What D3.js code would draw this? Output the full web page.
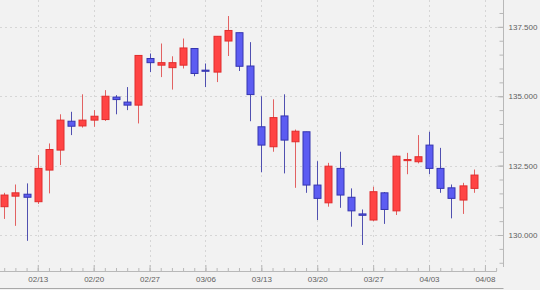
<!DOCTYPE html>
<html>
<head>
<meta charset="utf-8">
<script src="https://cdn.jsdelivr.net/npm/d3@7"></script>
<style>
  html, body { margin: 0; padding: 0; background: #f2f2f2; }
  svg { display: block; }
  .tick text { font-family: "Liberation Sans", Arial, sans-serif; font-size: 8px; fill: #5e5e5e; }
</style>
</head>
<body>
<svg id="chart" width="540" height="290"></svg>
<script>
// daily candles, trading days only
const dates = [
  "02/08", "02/09", "02/10",
  "02/13", "02/14", "02/15", "02/16", "02/17",
  "02/20", "02/21", "02/22", "02/23", "02/24",
  "02/27", "02/28", "03/01", "03/02", "03/03",
  "03/06", "03/07", "03/08", "03/09", "03/10",
  "03/13", "03/14", "03/15", "03/16", "03/17",
  "03/20", "03/21", "03/22", "03/23", "03/24",
  "03/27", "03/28", "03/29", "03/30", "03/31",
  "04/03", "04/04", "04/05", "04/06", "04/07",
];
const open = [
  131.02, 131.40, 131.47,
  131.20, 132.34, 133.06, 134.10, 133.93,
  134.14, 134.16, 134.97, 134.79, 134.68,
  136.36, 136.12, 136.03, 136.12, 136.72,
  135.94, 135.87, 136.99, 137.29, 136.09,
  133.90, 133.18, 134.29, 133.36, 133.72,
  131.80, 131.16, 132.40, 131.36, 130.76,
  130.54, 131.52, 130.87, 132.68, 132.64,
  133.24, 132.40, 131.70, 131.26, 131.68,
];
const high = [
  131.52, 131.82, 131.86,
  132.88, 133.30, 134.35, 134.44, 135.07,
  134.50, 135.22, 135.04, 135.33, 136.47,
  136.54, 136.90, 136.44, 137.08, 136.72,
  136.18, 137.16, 137.89, 137.29, 136.95,
  135.00, 134.89, 135.07, 133.80, 133.72,
  132.66, 132.60, 133.00, 131.68, 130.92,
  131.74, 131.55, 132.86, 132.96, 133.60,
  133.72, 133.14, 131.82, 131.88, 132.36,
];
const low = [
  130.58, 130.33, 129.79,
  131.12, 131.50, 132.52, 133.60, 133.87,
  133.90, 134.11, 134.35, 134.50, 134.02,
  135.87, 135.69, 135.24, 136.00, 135.72,
  135.33, 135.51, 136.45, 135.91, 134.10,
  132.26, 133.00, 132.22, 131.70, 131.52,
  130.54, 131.02, 130.98, 130.30, 129.64,
  130.50, 130.40, 130.72, 132.19, 132.58,
  132.19, 131.52, 130.60, 130.76, 131.52,
];
const close = [
  131.44, 131.52, 131.36,
  132.40, 133.08, 134.14, 133.92, 134.14,
  134.28, 135.00, 134.88, 134.68, 136.47,
  136.21, 136.21, 136.21, 136.74, 135.82,
  135.90, 137.16, 137.37, 136.08, 135.06,
  133.24, 134.23, 133.42, 133.74, 131.80,
  131.32, 132.48, 131.44, 130.87, 130.71,
  131.56, 130.92, 132.84, 132.72, 132.82,
  132.40, 131.68, 131.32, 131.77, 132.16,
];
// axis slots run one day past the data
const slotLabels = [...dates, "04/08", ""];
const labelledSlots = ["02/13", "02/20", "02/27", "03/06", "03/13", "03/20", "03/27", "04/03", "04/08"];
const priceTicks = [130, 132.5, 135, 137.5];

const colors = {
  upFill: "#ff4444", upStroke: "#e02c2c", upWick: "#e26262",
  downFill: "#5c5cf2", downStroke: "#3535b0", downWick: "#5050b0",
  grid: "#d6d6d6", axis: "#b8b8b8",
};

const plotRight = 503.5, plotBottom = 271;

const candles = dates.map((d, i) => ({
  i, date: d, open: open[i], high: high[i], low: low[i], close: close[i],
  up: close[i] >= open[i],
}));

const svg = d3.select("#chart");

const x = d3.scaleLinear().domain([-0.376, 44.66]).range([0, plotRight]);
const y = d3.scaleLinear().domain([128.703, 138.468]).range([plotBottom, 0]);
const bodyWidth = 7;

// grid
svg.append("g")
  .selectAll("line")
  .data(priceTicks)
  .join("line")
  .attr("x1", 0)
  .attr("x2", plotRight)
  .attr("y1", (d) => Math.round(y(d)) + 0.5)
  .attr("y2", (d) => Math.round(y(d)) + 0.5)
  .attr("stroke", colors.grid)
  .attr("stroke-dasharray", "2,3");

svg.append("g")
  .selectAll("line")
  .data(labelledSlots)
  .join("line")
  .attr("x1", (d) => Math.round(x(slotLabels.indexOf(d))) + 0.5)
  .attr("x2", (d) => Math.round(x(slotLabels.indexOf(d))) + 0.5)
  .attr("y1", 0)
  .attr("y2", plotBottom)
  .attr("stroke", colors.grid)
  .attr("stroke-dasharray", "2,3");

// candles
const g = svg.append("g");

g.selectAll(".wick")
  .data(candles)
  .join("line")
  .attr("class", "wick")
  .attr("x1", (d) => Math.round(x(d.i)) + 0.5)
  .attr("x2", (d) => Math.round(x(d.i)) + 0.5)
  .attr("y1", (d) => y(d.high))
  .attr("y2", (d) => y(d.low))
  .attr("stroke", (d) => (d.up ? colors.upWick : colors.downWick))
  .attr("stroke-width", 1);

g.selectAll(".body")
  .data(candles)
  .join("rect")
  .attr("class", "body")
  .attr("x", (d) => Math.round(x(d.i)) + 0.5 - bodyWidth / 2)
  .attr("width", bodyWidth)
  .attr("y", (d) => y(Math.max(d.open, d.close)))
  .attr("height", (d) => Math.max(1, Math.abs(y(d.open) - y(d.close))))
  .attr("fill", (d) => (d.up ? colors.upFill : colors.downFill))
  .attr("stroke", (d) => (d.up ? colors.upStroke : colors.downStroke))
  .attr("stroke-width", 1);

// right price axis, ticks point into the plot
const yMinor = svg.append("g")
  .attr("transform", `translate(${plotRight},0)`)
  .call(d3.axisRight(y).tickValues(d3.range(129, 138.5, 0.5)).tickSize(-4).tickFormat(""));

const yAxis = svg.append("g")
  .attr("transform", `translate(${plotRight},0)`)
  .call(d3.axisRight(y).tickValues(priceTicks).tickSizeInner(-6).tickSizeOuter(0).tickPadding(5).tickFormat(d3.format(".3f")));

[yMinor, yAxis].forEach((a) => {
  a.select(".domain").attr("d", `M0,0V${plotBottom - 4}`).attr("stroke", colors.axis);
  a.selectAll(".tick line").attr("stroke", colors.axis);
});

// bottom date axis
const xMinor = svg.append("g")
  .attr("transform", `translate(0,${plotBottom})`)
  .call(d3.axisBottom(x).tickValues(d3.range(0, slotLabels.length)).tickSize(-3).tickFormat(""));

const xAxis = svg.append("g")
  .attr("transform", `translate(0,${plotBottom})`)
  .call(
    d3.axisBottom(x)
      .tickValues(labelledSlots.map((d) => slotLabels.indexOf(d)))
      .tickSizeInner(-6)
      .tickSizeOuter(0)
      .tickPadding(5)
      .tickFormat((i) => slotLabels[i])
  );

[xMinor, xAxis].forEach((a) => {
  a.select(".domain").attr("d", `M0,0.5H${x(44) + 0.5}`).attr("stroke", colors.axis);
  a.selectAll(".tick line").attr("stroke", colors.axis);
});

svg.append("line")
  .attr("x1", 0)
  .attr("x2", plotRight)
  .attr("y1", 288.5)
  .attr("y2", 288.5)
  .attr("stroke", "#a8a8a8");
</script>
</body>
</html>
